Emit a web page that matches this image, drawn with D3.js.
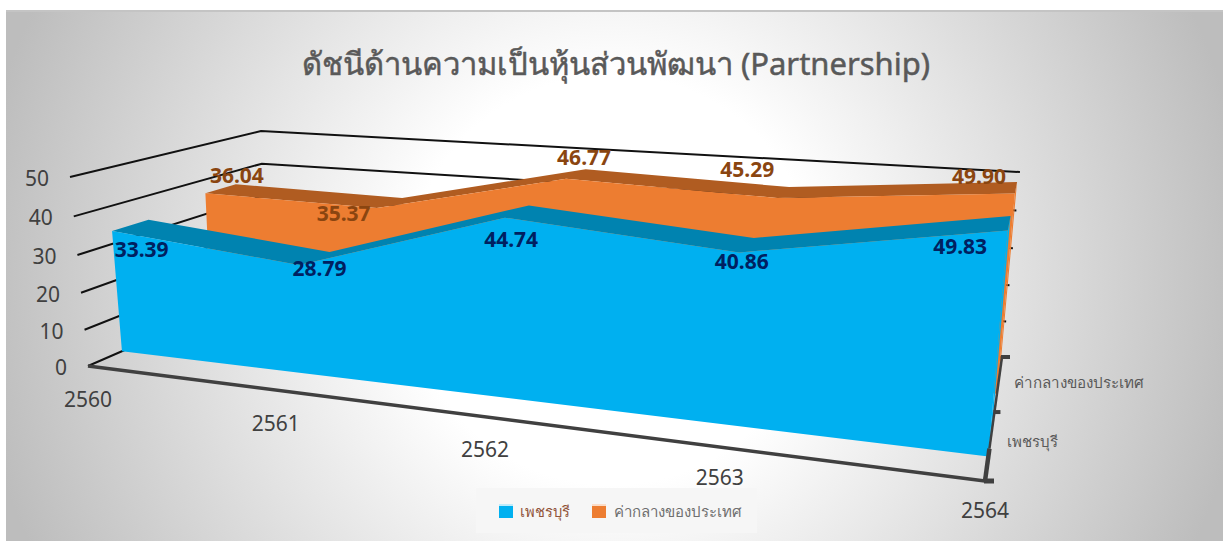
<!DOCTYPE html>
<html><head><meta charset="utf-8">
<script src="https://cdn.jsdelivr.net/npm/d3@7/dist/d3.min.js"></script>
<style>html,body{margin:0;padding:0;background:#fff}svg{display:block}</style></head>
<body><svg id="c" width="1223" height="543"></svg>
<script>
const titleText = "ดัชนีด้านความเป็นหุ้นส่วนพัฒนา (Partnership)";
const years = ["2560","2561","2562","2563","2564"];
const seriesNames = ["เพชรบุรี","ค่ากลางของประเทศ"];
const phetchaburi = [33.39,28.79,44.74,40.86,49.83];
const national = [36.04,35.37,46.77,45.29,49.90];
const valueTicks = [0,10,20,30,40,50];

const FONT = "'Noto Sans','Open Sans',sans-serif";
const svg = d3.select("#c");
const defs = svg.append("defs");
const grad = defs.append("radialGradient").attr("id","bg").attr("gradientUnits","userSpaceOnUse")
  .attr("cx",612).attr("cy",280).attr("r",640);
grad.append("stop").attr("offset","0.32").attr("stop-color","#ffffff");
grad.append("stop").attr("offset","1").attr("stop-color","#bdbdbd");

svg.append("rect").attr("x",6).attr("y",11).attr("width",1217).attr("height",530).attr("fill","url(#bg)");
svg.append("rect").attr("x",6).attr("y",10).attr("width",1217).attr("height",2).attr("fill","#c4c4c4");

/* scales into the unit cube */
const uScale = d3.scalePoint().domain(years).range([0,1]);
const vScale = d3.scaleLinear().domain([0,50]).range([0,1]);
const dScale = d3.scaleBand().domain(seriesNames).range([0,1]).paddingInner(0.633).paddingOuter(0.337);

/* perspective frame of the 3-D box: [u][v][d] */
const frame = {
  "000":[88,366],"100":[985,481],"010":[70,177],"110":[1005,244],
  "001":[265,289],"101":[1002,357],"011":[261,131],"111":[1019,172]
};
const wt=(u,v,d)=>1-0.206*u-0.05*v+0.2*d;
function project(u,v,d){
  let sx=0,sy=0,sw=0;
  for(const a of [0,1])for(const b of [0,1])for(const c of [0,1]){
    const k=(a?u:1-u)*(b?v:1-v)*(c?d:1-d)*wt(a,b,c);
    const p=frame[""+a+b+c];
    sx+=k*p[0];sy+=k*p[1];sw+=k;
  }
  return [sx/sw,sy/sw];
}
const line=d3.line();
const closed=d3.line().curve(d3.curveLinearClosed);

/* gridlines: back wall and left wall */
const grid=svg.append("g").attr("fill","none").attr("stroke","#111").attr("stroke-width",2);
valueTicks.forEach(t=>{
  const v=vScale(t);
  grid.append("path").attr("d",line([project(0,v,0),project(0,v,1),project(1.001,v,1)]));
});

/* 3-D areas */
function drawArea(name,vals,front,rim){
  const d0=dScale(name), d1=d0+dScale.bandwidth();
  const g=svg.append("g");
  const top=(d)=>vals.map((x,i)=>project(uScale(years[i]),vScale(x),d));
  const base=(d)=>[project(1,0,d),project(0,0,d)];
  const lastV=vScale(vals[vals.length-1]);
  g.append("path").attr("fill",front).attr("d",closed([project(1,lastV,d0),project(1,lastV,d1),project(1,0,d1),project(1,0,d0)]));
  g.append("path").attr("fill",rim).attr("d",closed([...top(d0),...top(d1).reverse()]));
  g.append("path").attr("fill",front).attr("d",closed([...top(d0),...base(d0)]));
}
drawArea(seriesNames[1],national,"#ED7D31","#B05C21");
drawArea(seriesNames[0],phetchaburi,"#00B0F0","#0083B0");

/* axes */
const axis=svg.append("g").attr("fill","none").attr("stroke","#404040").attr("stroke-linecap","butt");
axis.append("path").attr("stroke-width",3.5).attr("d",line([project(0,0,0),project(1,0,0)]));
axis.append("path").attr("stroke-width",4.5).attr("d",line([project(1,0,0),project(1,0,0.22)]));
axis.append("path").attr("stroke-width",2.5).attr("d",line([project(1,0,0.22),project(1,0,1)]));
seriesNames.concat(["end"]).forEach((n,i)=>{
  const p=project(1,0,[0,0.5,1][i]);
  axis.append("path").attr("stroke-width",[5,4,4][i]).attr("d",line([[p[0]-1,p[1]],[p[0]+[9,6,8][i],p[1]]]));
});

/* text */
const txt=(x,y,s,size,fill,anchor="middle",weight=400)=>svg.append("text").attr("x",x).attr("y",y)
  .attr("font-family",FONT).attr("font-size",size).attr("font-weight",weight)
  .attr("fill",fill).attr("text-anchor",anchor).text(s);

txt(616,75,titleText,31,"#595959").attr("stroke","#595959").attr("stroke-width",0.5);
valueTicks.forEach(t=>{
  const p=project(0,vScale(t),0);
  txt(p[0]-21,p[1]+9,t,21,"#404040","end");
});
years.forEach((y,i)=>{
  const p=project(uScale(y),0,0);
  txt(p[0],p[1]+[41,41,40,38,37][i],y,21,"#404040");
});

/* data labels: centred on the middle of each series' rim, with a small nudge */
const blueNudge=[[11,25],[5,11],[-6,29],[-5,17],[-49,24]];
const orangeNudge=[[16,-13],[-46,11],[8,-16],[-36,-22],[-37,-11]];
function labels(name,vals,nudge,fill){
  const d=dScale(name)+dScale.bandwidth()/2;
  vals.forEach((x,i)=>{
    const p=project(uScale(years[i]),vScale(x),d);
    txt(p[0]+nudge[i][0],p[1]+nudge[i][1]+7,x.toFixed(2),21,fill,"middle",700);
  });
}
labels(seriesNames[1],national,orangeNudge,"#8A4510");
labels(seriesNames[0],phetchaburi,blueNudge,"#002060");

/* depth axis labels */
txt(1014,388,seriesNames[1],15.2,"#595959","start");
txt(1007,447,seriesNames[0],15,"#595959","start");

/* legend */
const lg=svg.append("g");
lg.append("rect").attr("x",476).attr("y",488).attr("width",281).attr("height",45).attr("fill","#f6f6f6");
[[499,"#00B0F0","#BDEBFB"],[592,"#ED7D31","#FBDDC8"]].forEach(([x,c,t])=>{
  lg.append("rect").attr("x",x).attr("y",504).attr("width",14).attr("height",14).attr("fill",c);
  lg.append("rect").attr("x",x).attr("y",504).attr("width",14).attr("height",2).attr("fill",t);
});
txt(520,517,seriesNames[0],14.7,"#91543A","start");
txt(614,517,seriesNames[1],15,"#6f6f6f","start");
</script></body></html>
